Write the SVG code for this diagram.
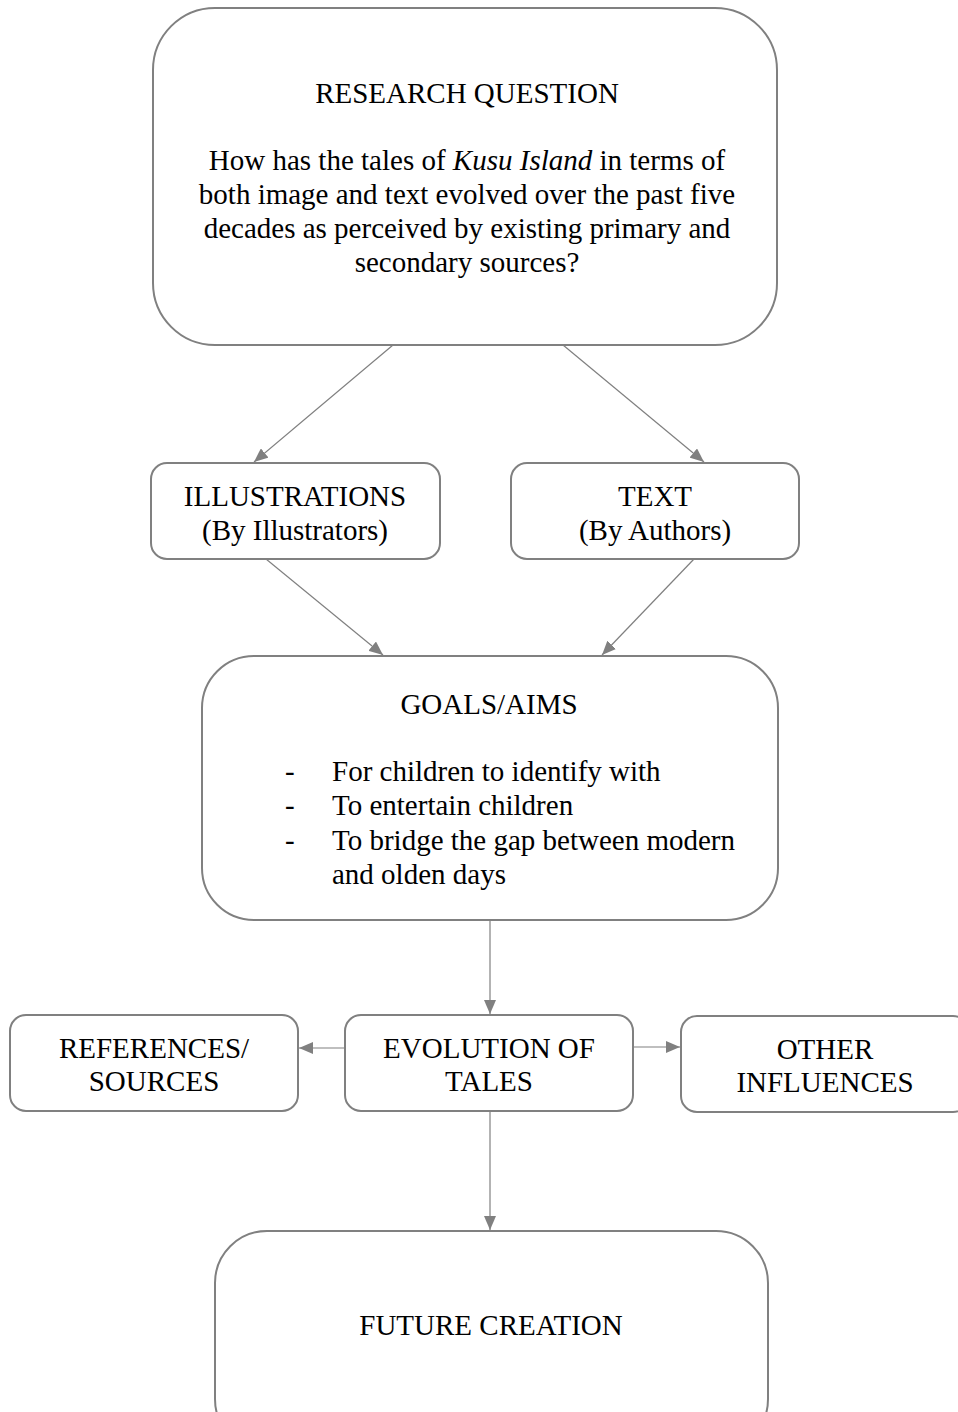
<svg xmlns="http://www.w3.org/2000/svg" width="958" height="1412" viewBox="0 0 958 1412">
<defs>
<marker id="ah" viewBox="0 0 14 12" refX="14" refY="6" markerWidth="14" markerHeight="12" markerUnits="userSpaceOnUse" orient="auto">
<path d="M0,0 L14,6 L0,12 z" fill="#808080"/>
</marker>
<style>
.box{fill:#fff;stroke:#808080;stroke-width:2}
.t{font-size:29px;fill:#000}
.c{text-anchor:middle}
.edge{stroke:#808080;stroke-width:1.2;fill:none;marker-end:url(#ah)}
</style>
</defs>
<rect width="958" height="1412" fill="#fff"/>
<g id="connectors">
<line class="edge" x1="393" y1="345" x2="254" y2="462"/>
<line class="edge" x1="563" y1="345" x2="704" y2="462"/>
<line class="edge" x1="266" y1="559" x2="383" y2="655"/>
<line class="edge" x1="694" y1="559" x2="602" y2="655"/>
<line class="edge" x1="490" y1="920" x2="490" y2="1014"/>
<line class="edge" x1="345" y1="1048" x2="299" y2="1048"/>
<line class="edge" x1="633" y1="1047" x2="680" y2="1047"/>
<line class="edge" x1="490" y1="1111" x2="490" y2="1230"/>
</g>
<g font-family="Liberation Serif, Times New Roman, DejaVu Serif, serif">
<g id="research-question">
<rect class="box" x="153" y="8" width="624" height="337" rx="62"/>
<text class="t c" x="467" y="103">RESEARCH QUESTION</text>
<text class="t c" x="467" y="170">How has the tales of <tspan font-style="italic">Kusu Island</tspan> in terms of</text>
<text class="t c" x="467" y="204">both image and text evolved over the past five</text>
<text class="t c" x="467" y="238">decades as perceived by existing primary and</text>
<text class="t c" x="467" y="272">secondary sources?</text>
</g>
<g id="illustrations">
<rect class="box" x="151" y="463" width="289" height="96" rx="16"/>
<text class="t c" x="295" y="506">ILLUSTRATIONS</text>
<text class="t c" x="295" y="540">(By Illustrators)</text>
</g>
<g id="text-node">
<rect class="box" x="511" y="463" width="288" height="96" rx="16"/>
<text class="t c" x="655" y="506">TEXT</text>
<text class="t c" x="655" y="540">(By Authors)</text>
</g>
<g id="goals">
<rect class="box" x="202" y="656" width="576" height="264" rx="52"/>
<text class="t c" x="489" y="714">GOALS/AIMS</text>
<text class="t" x="285" y="781">-</text>
<text class="t" x="332" y="781">For children to identify with</text>
<text class="t" x="285" y="815">-</text>
<text class="t" x="332" y="815">To entertain children</text>
<text class="t" x="285" y="850">-</text>
<text class="t" x="332" y="850">To bridge the gap between modern</text>
<text class="t" x="332" y="884">and olden days</text>
</g>
<g id="references">
<rect class="box" x="10" y="1015" width="288" height="96" rx="16"/>
<text class="t c" x="154" y="1058">REFERENCES/</text>
<text class="t c" x="154" y="1091">SOURCES</text>
</g>
<g id="evolution">
<rect class="box" x="345" y="1015" width="288" height="96" rx="16"/>
<text class="t c" x="489" y="1058">EVOLUTION OF</text>
<text class="t c" x="489" y="1091">TALES</text>
</g>
<g id="other">
<rect class="box" x="681" y="1016" width="288" height="96" rx="16"/>
<text class="t c" x="825" y="1059">OTHER</text>
<text class="t c" x="825" y="1092">INFLUENCES</text>
</g>
<g id="future">
<rect class="box" x="215" y="1231" width="553" height="220" rx="52"/>
<text class="t c" x="491" y="1335">FUTURE CREATION</text>
</g>
</g>
</svg>
